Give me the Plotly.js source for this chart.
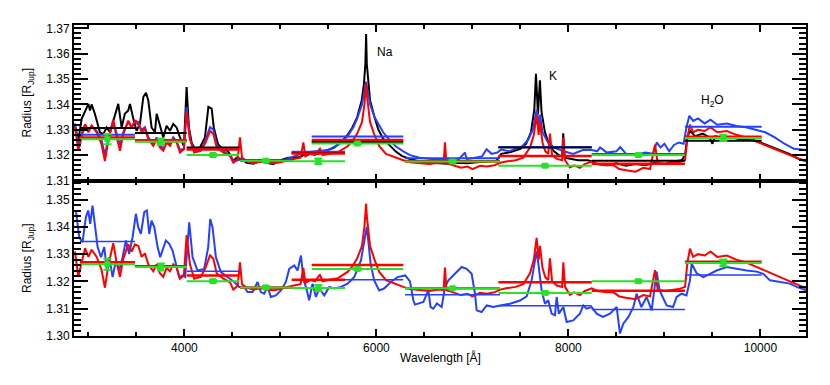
<!DOCTYPE html>
<html>
<head>
<meta charset="utf-8">
<script src="https://cdn.plot.ly/plotly-3.0.1.min.js"></script>
<style>
  html, body { margin: 0; padding: 0; background: #fff; }
  #chart { width: 830px; height: 385px; }
</style>
</head>
<body>
<div id="chart"></div>
<script>
// ------------------------
// spectra (wavelength in A, radius in R_Jup)
var wlBlack = [2860,2895,2930,2965,3000,3017,3034,3068,3103,3120,3155,3190,3225,3259,3311,3346,3380,3415,3433,3468,3502,3537,3572,3600,3624,3658,3693,3711,3745,3780,3815,3850,3884,3919,3954,3995,4023,4047,4075,4110,4162,4214,4250,4284,4306,4350,4402,4454,4510,4544,4596,4648,4718,4787,4857,4926,4978,5030,5082,5134,5204,5256,5308,5380,5472,5560,5646,5700,5750,5800,5847,5870,5885,5893,5900,5915,5934,5980,6021,6070,6125,6200,6264,6350,6450,6550,6650,6750,6850,6950,7050,7150,7250,7300,7400,7500,7560,7610,7645,7662,7683,7703,7720,7756,7800,7850,7900,7935,7946,7960,8020,8100,8200,8250,8300,8400,8500,8600,8700,8800,8900,9000,9100,9180,9215,9240,9270,9320,9400,9470,9500,9530,9600,9700,9800,9900,10000,10100,10200,10300,10400,10475];
var rBlack = [1.3316,1.3257,1.3343,1.3376,1.3402,1.3376,1.3400,1.3362,1.3309,1.3290,1.3283,1.3309,1.3290,1.3336,1.3402,1.3309,1.3363,1.3376,1.3402,1.3343,1.3296,1.3323,1.3429,1.3446,1.3416,1.3309,1.3290,1.3363,1.3316,1.3270,1.3316,1.3296,1.3323,1.3309,1.3270,1.3236,1.3468,1.3309,1.3250,1.3223,1.3230,1.3270,1.3390,1.3383,1.3309,1.3243,1.3223,1.3216,1.3177,1.3190,1.3184,1.3170,1.3166,1.3177,1.3170,1.3164,1.3177,1.3184,1.3190,1.3190,1.3193,1.3203,1.3210,1.3204,1.3217,1.3230,1.3257,1.3280,1.3309,1.3350,1.3415,1.3480,1.3560,1.3677,1.3560,1.3480,1.3415,1.3350,1.3300,1.3265,1.3244,1.3215,1.3197,1.3185,1.3175,1.3170,1.3168,1.3166,1.3170,1.3168,1.3172,1.3175,1.3178,1.3205,1.3212,1.3225,1.3245,1.3290,1.3380,1.3521,1.3360,1.3495,1.3370,1.3290,1.3240,1.3215,1.3200,1.3195,1.3286,1.3190,1.3185,1.3180,1.3180,1.3175,1.3165,1.3160,1.3168,1.3158,1.3165,1.3160,1.3170,1.3165,1.3175,1.3180,1.3200,1.3275,1.3295,1.3275,1.3285,1.3270,1.3245,1.3275,1.3268,1.3270,1.3262,1.3262,1.3250,1.3235,1.3220,1.3205,1.3185,1.3178];

var wlRed = [2860,2895,2930,2965,3000,3034,3086,3137,3172,3207,3259,3294,3329,3363,3415,3450,3485,3520,3555,3589,3624,3676,3711,3745,3780,3815,3850,3884,3919,3954,3995,4023,4058,4102,4170,4220,4267,4302,4336,4406,4475,4510,4555,4579,4600,4650,4720,4790,4860,4930,5000,5070,5140,5210,5239,5260,5310,5360,5412,5440,5500,5600,5700,5750,5800,5850,5875,5886,5893,5900,5910,5934,5980,6030,6100,6200,6280,6350,6450,6550,6650,6700,6714,6730,6800,6880,6950,7000,7080,7150,7230,7290,7350,7450,7530,7600,7640,7669,7690,7704,7730,7760,7790,7808,7830,7880,7935,7947,7965,8016,8060,8120,8170,8243,8300,8400,8470,8530,8600,8700,8780,8850,8902,8930,9000,9080,9150,9215,9240,9266,9300,9350,9420,9480,9550,9650,9750,9850,9950,10050,10150,10250,10350,10475];
var rRed = [1.3310,1.3217,1.3270,1.3322,1.3290,1.3316,1.3290,1.3243,1.3177,1.3257,1.3340,1.3270,1.3217,1.3283,1.3336,1.3309,1.3336,1.3330,1.3290,1.3303,1.3263,1.3237,1.3263,1.3230,1.3217,1.3250,1.3237,1.3263,1.3250,1.3210,1.3223,1.3370,1.3263,1.3210,1.3217,1.3250,1.3296,1.3283,1.3230,1.3210,1.3197,1.3170,1.3184,1.3270,1.3190,1.3177,1.3170,1.3175,1.3170,1.3168,1.3172,1.3180,1.3185,1.3190,1.3250,1.3195,1.3205,1.3200,1.3225,1.3200,1.3205,1.3212,1.3235,1.3255,1.3285,1.3330,1.3400,1.3440,1.3485,1.3440,1.3400,1.3330,1.3280,1.3235,1.3205,1.3190,1.3180,1.3172,1.3168,1.3165,1.3170,1.3168,1.3251,1.3168,1.3160,1.3150,1.3155,1.3145,1.3158,1.3155,1.3160,1.3170,1.3175,1.3180,1.3190,1.3230,1.3280,1.3360,1.3280,1.3330,1.3250,1.3215,1.3205,1.3285,1.3200,1.3185,1.3180,1.3270,1.3180,1.3151,1.3160,1.3150,1.3165,1.3175,1.3165,1.3160,1.3160,1.3145,1.3140,1.3135,1.3150,1.3145,1.3241,1.3170,1.3165,1.3170,1.3172,1.3180,1.3270,1.3320,1.3290,1.3300,1.3295,1.3310,1.3290,1.3295,1.3280,1.3270,1.3255,1.3240,1.3225,1.3210,1.3195,1.3175];

var wlBlueTop = [2860,2895,2930,2965,3000,3034,3086,3137,3172,3207,3259,3294,3329,3363,3415,3450,3485,3520,3555,3589,3624,3676,3711,3745,3780,3815,3850,3884,3919,3954,3995,4023,4058,4102,4170,4220,4267,4302,4336,4406,4475,4510,4600,4650,4720,4790,4860,4930,5000,5070,5140,5210,5300,5400,5500,5600,5700,5760,5800,5850,5880,5893,5905,5935,5980,6021,6070,6125,6200,6280,6350,6450,6550,6650,6750,6850,6922,6940,7000,7100,7148,7200,7260,7300,7380,7450,7520,7580,7630,7669,7690,7704,7730,7780,7850,7950,8050,8150,8243,8300,8330,8400,8500,8540,8600,8700,8800,8880,8920,8960,9000,9050,9100,9150,9200,9230,9260,9300,9350,9420,9480,9550,9650,9750,9850,9950,10050,10150,10250,10350,10475];
var rBlueTop = [1.3325,1.3240,1.3285,1.3320,1.3300,1.3316,1.3295,1.3260,1.3200,1.3265,1.3330,1.3280,1.3240,1.3290,1.3330,1.3310,1.3330,1.3320,1.3300,1.3310,1.3270,1.3245,1.3270,1.3240,1.3225,1.3255,1.3245,1.3270,1.3255,1.3220,1.3225,1.3390,1.3265,1.3215,1.3222,1.3260,1.3310,1.3300,1.3240,1.3215,1.3200,1.3175,1.3185,1.3175,1.3168,1.3175,1.3170,1.3168,1.3175,1.3185,1.3195,1.3205,1.3212,1.3215,1.3220,1.3240,1.3275,1.3310,1.3345,1.3400,1.3460,1.3490,1.3460,1.3400,1.3350,1.3320,1.3290,1.3265,1.3235,1.3215,1.3200,1.3190,1.3185,1.3182,1.3180,1.3180,1.3210,1.3185,1.3188,1.3195,1.3223,1.3205,1.3210,1.3222,1.3215,1.3225,1.3235,1.3260,1.3300,1.3380,1.3320,1.3360,1.3290,1.3255,1.3230,1.3215,1.3205,1.3220,1.3220,1.3215,1.3230,1.3210,1.3215,1.3232,1.3205,1.3200,1.3210,1.3205,1.3250,1.3230,1.3245,1.3215,1.3240,1.3250,1.3245,1.3310,1.3355,1.3335,1.3345,1.3325,1.3340,1.3320,1.3325,1.3315,1.3310,1.3300,1.3290,1.3270,1.3245,1.3225,1.3220];

var wlBlueBot = [2870,2904,2939,2974,2998,3019,3043,3068,3096,3131,3165,3193,3217,3252,3287,3321,3356,3391,3425,3460,3495,3519,3547,3582,3609,3634,3658,3686,3721,3748,3783,3807,3842,3877,3911,3946,3981,4008,4050,4085,4137,4206,4248,4269,4293,4328,4380,4449,4519,4571,4623,4658,4710,4762,4796,4831,4866,4901,4953,5005,5057,5092,5144,5179,5214,5241,5266,5300,5335,5370,5405,5457,5509,5561,5630,5700,5769,5839,5880,5900,5915,5940,5977,6029,6080,6150,6220,6300,6350,6385,6402,6437,6490,6541,6565,6593,6630,6680,6715,6750,6784,6840,6888,6940,6992,7027,7044,7096,7149,7220,7287,7392,7496,7565,7617,7652,7669,7687,7721,7756,7790,7825,7860,7878,7900,7947,7982,8050,8120,8155,8190,8242,8294,8360,8433,8503,8537,8572,8625,8676,8711,8760,8815,8867,8919,8950,9023,9090,9128,9180,9230,9266,9284,9336,9405,9475,9544,9648,9752,9857,9961,10030,10100,10204,10308,10378,10475];
var rBlueBot = [1.3460,1.3362,1.3344,1.3436,1.3460,1.3411,1.3478,1.3399,1.3326,1.3289,1.3326,1.3240,1.3289,1.3216,1.3277,1.3240,1.3289,1.3350,1.3301,1.3362,1.3448,1.3399,1.3374,1.3454,1.3460,1.3374,1.3423,1.3399,1.3326,1.3289,1.3326,1.3350,1.3338,1.3313,1.3265,1.3216,1.3222,1.3216,1.3417,1.3289,1.3240,1.3246,1.3326,1.3429,1.3399,1.3289,1.3234,1.3216,1.3198,1.3180,1.3180,1.3161,1.3161,1.3198,1.3161,1.3155,1.3180,1.3143,1.3149,1.3167,1.3198,1.3246,1.3259,1.3240,1.3295,1.3204,1.3180,1.3131,1.3192,1.3143,1.3174,1.3149,1.3180,1.3174,1.3180,1.3192,1.3216,1.3277,1.3370,1.3400,1.3350,1.3265,1.3204,1.3167,1.3174,1.3198,1.3216,1.3222,1.3200,1.3130,1.3115,1.3119,1.3125,1.3167,1.3106,1.3100,1.3119,1.3106,1.3180,1.3204,1.3216,1.3234,1.3253,1.3246,1.3228,1.3155,1.3094,1.3088,1.3112,1.3106,1.3112,1.3118,1.3130,1.3145,1.3204,1.3277,1.3310,1.3265,1.3167,1.3118,1.3131,1.3082,1.3076,1.3143,1.3082,1.3106,1.3051,1.3057,1.3082,1.3112,1.3100,1.3106,1.3082,1.3070,1.3082,1.3106,1.3009,1.3045,1.3070,1.3106,1.3155,1.3106,1.3143,1.3094,1.3236,1.3167,1.3112,1.3106,1.3143,1.3155,1.3149,1.3204,1.3265,1.3230,1.3216,1.3228,1.3240,1.3253,1.3246,1.3240,1.3236,1.3228,1.3204,1.3198,1.3192,1.3180,1.3167];

// ------------------------
// binned values (10 wavelength bins)
var binLo = [2912,3485,4024,4579,5117,5326,6298,7270,8243,9214];
var binHi = [3485,4024,4572,5117,5673,6280,7287,8243,9214,10013];
var binMid = [3198,3755,4298,4848,5395,5803,6793,7757,8729,9614];
var greenR = [1.3263,1.3253,1.3201,1.3178,1.3176,1.3246,1.3175,1.3158,1.3201,1.3268];
var greenErr = [0.0020,0.0013,0.0004,0.0005,0.0011,0.0004,0.0004,0.0004,0.0004,0.0012];
var redBin = [1.3270,1.3256,1.3222,1.3178,1.3206,1.3260,1.3175,1.3197,1.3166,1.3272];
var blackBin = [1.3307,1.3287,1.3230,1.3180,1.3208,1.3252,1.3177,1.3230,1.3178,1.3257];
var blueBinTop = [1.3280,1.3260,1.3225,1.3178,1.3213,1.3273,1.3188,1.3232,1.3204,1.3312];
var blueBinBot = [1.3346,null,1.3237,1.3178,1.3177,1.3206,1.3151,1.3111,1.3097,1.3224];

var BLUE = "rgb(35,65,255)";
var RED = "rgb(255,0,0)";
var GREEN = "rgb(40,225,40)";
var BLACK = "rgb(0,0,0)";

// bin lines as broken segments
function segs(vals) {
  var x = [], y = [];
  for (var i = 0; i < vals.length; i++) {
    x.push(binLo[i], binHi[i], null);
    y.push(vals[i], vals[i], null);
  }
  return {x: x, y: y};
}
function spec(wl, r, color, xa, ya) {
  return {x: wl, y: r, xaxis: xa, yaxis: ya, type: "scatter", mode: "lines",
    line: {color: color, width: 2}};
}
function binTrace(vals, color, width, xa, ya) {
  var s = segs(vals);
  return {x: s.x, y: s.y, xaxis: xa, yaxis: ya, type: "scatter", mode: "lines",
    line: {color: color, width: width}};
}
function greenPts(xa, ya) {
  return {x: binMid, y: greenR, xaxis: xa, yaxis: ya, type: "scatter", mode: "markers",
    marker: {symbol: "square", size: 6, color: GREEN},
    error_y: {type: "data", array: greenErr, color: GREEN, thickness: 2, width: 4}};
}

var data = [
  // top panel
  spec(wlBlack, rBlack, BLACK, "x2", "y2"),
  spec(wlBlueTop, rBlueTop, BLUE, "x2", "y2"),
  spec(wlRed, rRed, RED, "x2", "y2"),
  binTrace(blueBinTop, BLUE, 2, "x2", "y2"),
  binTrace(blackBin, BLACK, 2, "x2", "y2"),
  binTrace(redBin, RED, 2.5, "x2", "y2"),
  binTrace(greenR, GREEN, 2, "x2", "y2"),
  greenPts("x2", "y2"),
  // bottom panel
  spec(wlBlueBot, rBlueBot, BLUE, "x", "y"),
  spec(wlRed, rRed, RED, "x", "y"),
  binTrace(blueBinBot, BLUE, 1.5, "x", "y"),
  binTrace(redBin, RED, 2.5, "x", "y"),
  binTrace(greenR, GREEN, 2, "x", "y"),
  greenPts("x", "y")
];

function font() {
  return {family: "Liberation Sans, Arial, sans-serif", size: 12, color: "#000"};
}
function xAxis(anchor, labels) {
  return {
    anchor: anchor, domain: [0, 1], range: [2850, 10475],
    showline: true, linecolor: "#000", linewidth: 2, mirror: "allticks",
    ticks: "inside", ticklen: 7, tickwidth: 2, tickcolor: "#000", dtick: 2000, tickformat: "d",
    minor: {dtick: 500, ticks: "inside", ticklen: 4, tickcolor: "#000"},
    gridcolor: "rgba(0,0,0,0)", showticklabels: labels, tickfont: font()
  };
}
function yAxis(anchor, dom, rng) {
  return {
    anchor: anchor, domain: dom, range: rng,
    showline: true, linecolor: "#000", linewidth: 2, mirror: "allticks",
    ticks: "inside", ticklen: 14, tickwidth: 2, tickcolor: "#000", dtick: 0.01, tickformat: ".2f",
    minor: {dtick: 0.002, ticks: "inside", ticklen: 7, tickcolor: "#000"},
    gridcolor: "rgba(0,0,0,0)", tickfont: font(),
    title: {text: "Radius [R<sub>Jup</sub>]", font: font(), standoff: 12}
  };
}

var layout = {
  width: 830, height: 385,
  margin: {l: 74, r: 24, t: 25, b: 49},
  showlegend: false,
  xaxis: xAxis("y", true),
  xaxis2: xAxis("y2", false),
  yaxis: yAxis("x", [0, 0.5], [1.30, 1.357]),
  yaxis2: yAxis("x2", [0.5, 1], [1.31, 1.3713]),
  annotations: [
    {text: "Wavelength [Å]", x: 0.5, y: -0.1, xref: "paper", yref: "paper", showarrow: false, font: font()},
    {text: "Na", x: 6090, y: 1.3606, xref: "x2", yref: "y2", showarrow: false, font: font()},
    {text: "K", x: 7840, y: 1.3511, xref: "x2", yref: "y2", showarrow: false, font: font()},
    {text: "H<sub>2</sub>O", x: 9506, y: 1.3415, xref: "x2", yref: "y2", showarrow: false, font: font()}
  ]
};

Plotly.newPlot("chart", data, layout, {displayModeBar: false});
</script>
</body>
</html>
